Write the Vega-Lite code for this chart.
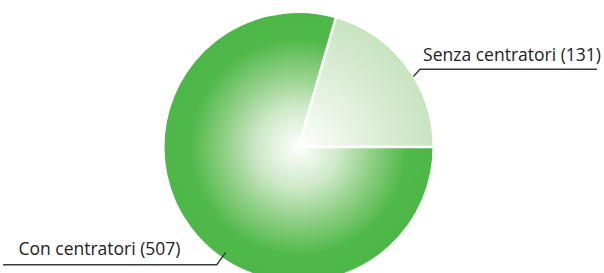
{
  "$schema": "https://vega.github.io/schema/vega-lite/v6.json",
  "width": 604,
  "height": 273,
  "autosize": {"type": "fit", "contains": "padding"},
  "padding": {"top": 21, "left": 0, "right": 4, "bottom": 0},
  "background": "white",
  "config": {"view": {"stroke": null}},
  "datasets": {
    "pie": [
      {"cat": "Senza centratori", "value": 131},
      {"cat": "Con centratori", "value": 507}
    ],
    "leaders": [
      {"id": "s", "o": 1, "x": 0.871, "y": 0.543},
      {"id": "s", "o": 2, "x": 0.92, "y": 0.599},
      {"id": "s", "o": 3, "x": 2.261, "y": 0.599},
      {"id": "c", "o": 1, "x": -0.552, "y": -0.813},
      {"id": "c", "o": 2, "x": -0.619, "y": -0.907},
      {"id": "c", "o": 3, "x": -2.239, "y": -0.907}
    ],
    "labels": [
      {"label": "Senza centratori (131)", "x": 0.944, "y": 0.66},
      {"label": "Con centratori (507)", "x": -2.122, "y": -0.836}
    ]
  },
  "layer": [
    {
      "data": {"name": "pie"},
      "mark": {"type": "arc", "outerRadius": 135.25, "stroke": "white", "strokeWidth": 2.5},
      "encoding": {
        "theta": {"field": "value", "type": "quantitative", "stack": true, "scale": {"range": [0.2807, 6.5639]}},
        "order": {"field": "cat", "sort": "descending"},
        "fill": {
          "condition": {
            "test": "datum.cat === 'Con centratori'",
            "value": {
              "gradient": "radial",
              "x1": 0.5, "y1": 0.5, "r1": 0,
              "x2": 0.5, "y2": 0.5, "r2": 0.5,
              "stops": [
                {"offset": 0, "color": "#ffffff"},
                {"offset": 0.3, "color": "#cfe9c9"},
                {"offset": 0.55, "color": "#8fcf85"},
                {"offset": 0.8, "color": "#50b94a"},
                {"offset": 1, "color": "#4cb848"}
              ]
            }
          },
          "value": {
            "gradient": "radial",
            "x1": 0, "y1": 1, "r1": 0,
            "x2": 0, "y2": 1, "r2": 1,
            "stops": [
              {"offset": 0, "color": "#ffffff"},
              {"offset": 0.5, "color": "#e2f0dc"},
              {"offset": 1, "color": "#c8e4bf"}
            ]
          }
        }
      }
    },
    {
      "data": {"name": "leaders"},
      "mark": {"type": "line", "color": "#3a3a3a", "strokeWidth": 1.4, "interpolate": "linear"},
      "encoding": {
        "x": {"field": "x", "type": "quantitative", "scale": {"domain": [-2.2388, 2.2388], "nice": false, "zero": false}, "axis": null},
        "y": {"field": "y", "type": "quantitative", "scale": {"domain": [-0.9403, 0.9403], "nice": false, "zero": false}, "axis": null},
        "detail": {"field": "id"},
        "order": {"field": "o"}
      }
    },
    {
      "data": {"name": "labels"},
      "mark": {"type": "text", "align": "left", "baseline": "alphabetic", "font": "Open Sans", "fontSize": 17.5, "color": "#222222"},
      "encoding": {
        "x": {"field": "x", "type": "quantitative"},
        "y": {"field": "y", "type": "quantitative"},
        "text": {"field": "label"}
      }
    }
  ]
}
